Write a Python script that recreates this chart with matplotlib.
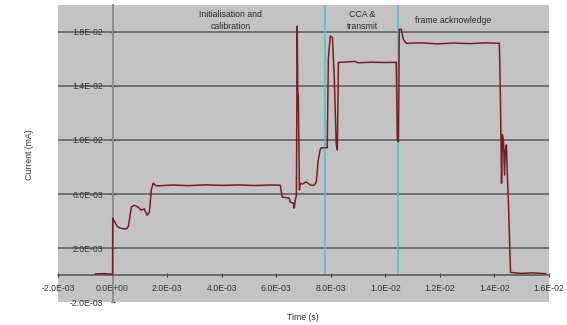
import numpy as np
import matplotlib
matplotlib.use('Agg')
import matplotlib.pyplot as plt
from matplotlib.ticker import FuncFormatter

# time (s) and current (mA)
time_ms = [-0.63, -0.3, 0.0, 0.007, 0.06, 0.17, 0.28, 0.50, 0.58, 0.69, 0.80, 0.94,
           1.05, 1.16, 1.27, 1.35, 1.42, 1.49, 1.60, 2.2, 2.8, 3.4, 4.0, 4.6, 5.2,
           5.8, 6.15, 6.22, 6.48, 6.51, 6.63, 6.66, 6.70, 6.74, 6.77, 6.79, 6.81,
           6.85, 6.88, 6.96, 7.10, 7.25, 7.40, 7.47, 7.54, 7.61, 7.65, 7.87, 7.91,
           7.98, 8.06, 8.13, 8.20, 8.24, 8.28, 8.35, 8.9, 9.0, 9.5, 10.0, 10.40,
           10.44, 10.48, 10.51, 10.58, 10.66, 10.77, 11.3, 11.9, 12.5, 13.1, 13.7,
           14.18, 14.22, 14.26, 14.29, 14.33, 14.37, 14.40, 14.44, 14.48, 14.51,
           14.59, 15.0, 15.4, 15.87]
current = [0.08, 0.1, 0.06, 4.2, 4.0, 3.6, 3.47, 3.4, 3.6, 5.03, 5.17, 5.03,
           4.8, 4.9, 4.43, 4.65, 6.3, 6.8, 6.6, 6.66, 6.62, 6.68, 6.64, 6.67, 6.63,
           6.66, 6.65, 5.77, 5.70, 5.40, 5.32, 4.95, 5.55, 5.9, 18.43, 13.6, 13.36,
           6.3, 6.8, 6.74, 6.9, 6.66, 6.66, 6.9, 8.5, 9.27, 9.42, 9.42, 15.97,
           17.7, 17.6, 14.5, 9.64, 9.27, 15.75, 15.75, 15.82, 15.72, 15.76, 15.74, 15.75,
           10.0, 9.87, 18.2, 18.2, 17.46, 17.16, 17.2, 17.12, 17.18, 17.14, 17.2,
           17.16, 13.0, 6.8, 10.4, 10.0, 7.4, 9.27, 9.64, 7.0, 5.55,
           0.19, 0.12, 0.16, 0.1]

phase_marks_ms = [7.77, 10.47]
phase_labels = ['Initialisation and\ncalibration', 'CCA &\ntransmit', 'frame acknowledge']
phase_label_x_ms = [4.32, 9.16, 12.49]

x_ticks = np.arange(-2e-3, 1.61e-2, 2e-3)
y_ticks = np.arange(-2e-3, 1.81e-2, 4e-3)

t = np.array(time_ms) * 1e-3
i_ma = np.array(current) * 1e-3

fig = plt.figure(figsize=(5.67, 3.25), dpi=100)
ax = fig.add_axes([58 / 567, 23 / 325, 491 / 567, 297 / 325])
ax.set_facecolor('#c3c3c3')
ax.set_xlim(-2e-3, 1.6e-2)
ax.set_ylim(-2e-3, 2e-2)

fnt = 'Liberation Sans'
for y in y_ticks[1:]:
    ax.axhline(y, color='#5a5a5a', lw=1.1, zorder=1)

for xm in phase_marks_ms:
    ax.plot([xm * 1e-3, xm * 1e-3], [0, 2e-2], color='#3fc3d6', lw=1.1, zorder=2)

ax.plot(t, i_ma, color='#7b1c22', lw=1.1, zorder=3)

for lab, xm in zip(phase_labels, phase_label_x_ms):
    ax.text(xm * 1e-3, 18.85e-3, lab, ha='center', va='center', fontsize=6.3,
            family=fnt, color='#2a2a2a', linespacing=1.3)

for s in ['top', 'right']:
    ax.spines[s].set_visible(False)
ax.spines['left'].set_position(('data', 0))
ax.spines['bottom'].set_position(('data', 0))
ax.spines['left'].set_color('#8e8e8e')
ax.spines['left'].set_linewidth(1.4)
ax.spines['bottom'].set_color('#555555')
ax.spines['bottom'].set_linewidth(1.1)

fmt = FuncFormatter(lambda v, p: f'{v:.1E}')
ax.set_xticks(x_ticks)
ax.set_yticks(y_ticks)
ax.xaxis.set_major_formatter(fmt)
ax.yaxis.set_major_formatter(fmt)
ax.tick_params(axis='both', labelsize=6.3, colors='#333333', direction='inout',
               length=3, width=0.8)
ax.tick_params(axis='x', pad=5)
ax.tick_params(axis='y', pad=5)
for lab in ax.get_xticklabels() + ax.get_yticklabels():
    lab.set_family(fnt)

fig.text(30 / 567, 1 - 155 / 325, 'Current (mA)', rotation=90, ha='center',
         va='center', fontsize=6.3, family=fnt, color='#333333')
fig.text(303 / 567, 1 - 317 / 325, 'Time (s)', ha='center', va='center',
         fontsize=6.3, family=fnt, color='#333333')

fig.savefig('out.png', dpi=100)
